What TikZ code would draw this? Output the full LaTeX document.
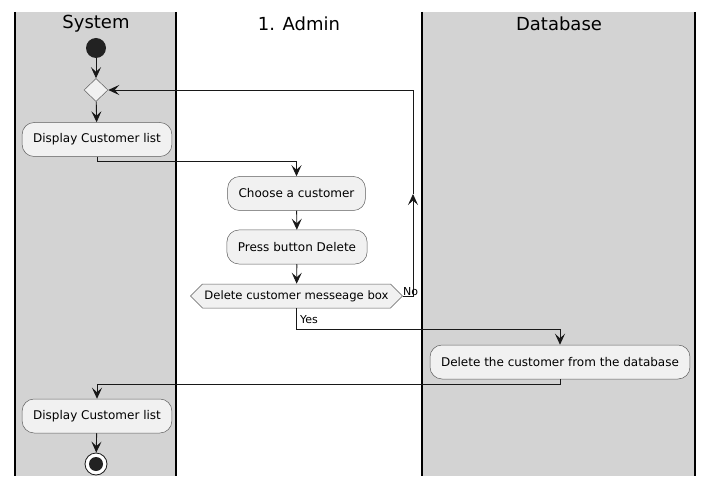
\documentclass[tikz,border=0pt]{standalone}
\usepackage{fontspec}
\setmainfont{DejaVu Sans}
\usepackage{tikz}
\usetikzlibrary{shapes.geometric,shapes.symbols,arrows.meta,positioning}
\definecolor{laneGray}{HTML}{D3D3D3}
\definecolor{boxFill}{HTML}{F1F1F1}
\definecolor{boxLine}{HTML}{181818}
\definecolor{dotBlack}{HTML}{222222}

\begin{document}
\begin{tikzpicture}[x=1pt, y=-1pt,
    action/.style={draw=boxLine!70, fill=boxFill, line width=0.5pt, rounded corners=12pt,
                   minimum height=34pt, inner xsep=11pt, font=\fontsize{12}{14}\selectfont},
    choice/.style={draw=boxLine!70, fill=boxFill, line width=0.5pt, diamond, inner sep=0pt,
                   minimum width=24pt, minimum height=23pt},
    hexbox/.style={draw=boxLine!70, fill=boxFill, line width=0.5pt, signal, signal to=east and west,
                   signal pointer angle=90, minimum height=24pt, inner xsep=2pt, inner ysep=0pt,
                   font=\fontsize{11.6}{13}\selectfont},
    lanetitle/.style={font=\fontsize{18}{20}\selectfont},
    flow/.style={draw=boxLine, line width=0.9pt, -{Stealth[length=11pt,width=10pt,inset=4.5pt]}},
    guard/.style={font=\fontsize{11}{13}\selectfont, inner sep=1pt}]
    \useasboundingbox (0,0) rectangle (714,486);
    \fill[white] (0,0) rectangle (714,486);
    % Lanes
    \fill[laneGray] (15,12) rectangle (176,476);
    \fill[laneGray] (422,12) rectangle (695,476);
    \foreach \x in {15,176,422,695} {
        \draw[line width=1.4pt] (\x,12) -- (\x,476);
}
    \node[lanetitle] (sysTitle) at (96,23.5) {System};
    \node[lanetitle] (admTitle) at (299,23.5) {1. Admin};
    \node[lanetitle] (dbTitle) at (559,23.5) {Database};
    % Nodes
    \node[circle, fill=dotBlack, inner sep=0pt, minimum size=20pt] (start) at (96,48) {};
    \node[choice] (merge) at (96,90) {};
    \node[action] (showList) at (97,139.5) {Display Customer list};
    \node[action] (choose) at (296.5,193.5) {Choose a customer};
    \node[action] (press) at (297,247) {Press button Delete};
    \node[hexbox] (confirm) at (296.5,296) {Delete customer messeage box};
    \node[action] (remove) at (560,362) {Delete the customer from the database};
    \node[action] (showAgain) at (97,416) {Display Customer list};
    \node[circle, draw=boxLine, line width=0.8pt, fill=white, inner sep=0pt, minimum size=22pt] (stop) at (96,464) {};
    \fill[dotBlack] (stop.center) circle (7);
    \coordinate (noBend) at (413,296);
    \coordinate (noMid) at (413,194);
    % Flows
    \draw[flow] (start) -- (merge);
    \draw[flow] (merge) -- (showList);
    \draw[flow] (showList.south) -- ++(0,4.5) -| (choose.north);
    \draw[flow] (choose) -- (press);
    \draw[flow] (press) -- (confirm);
    \draw[flow] (confirm.east) -| (noMid);
    \draw[flow] (noMid) |- (merge.east);
    \node[guard, anchor=south west] (noLabel) at (402,297) {No};
    \draw[flow] (confirm.south) -- ++(0,21) -| (remove.north);
    \node[guard, anchor=west] (yesLabel) at (299,320) {Yes};
    \draw[flow] (remove.south) -- ++(0,5) -| (showAgain.north);
    \draw[flow] (showAgain) -- (stop);
\end{tikzpicture}
\end{document}
